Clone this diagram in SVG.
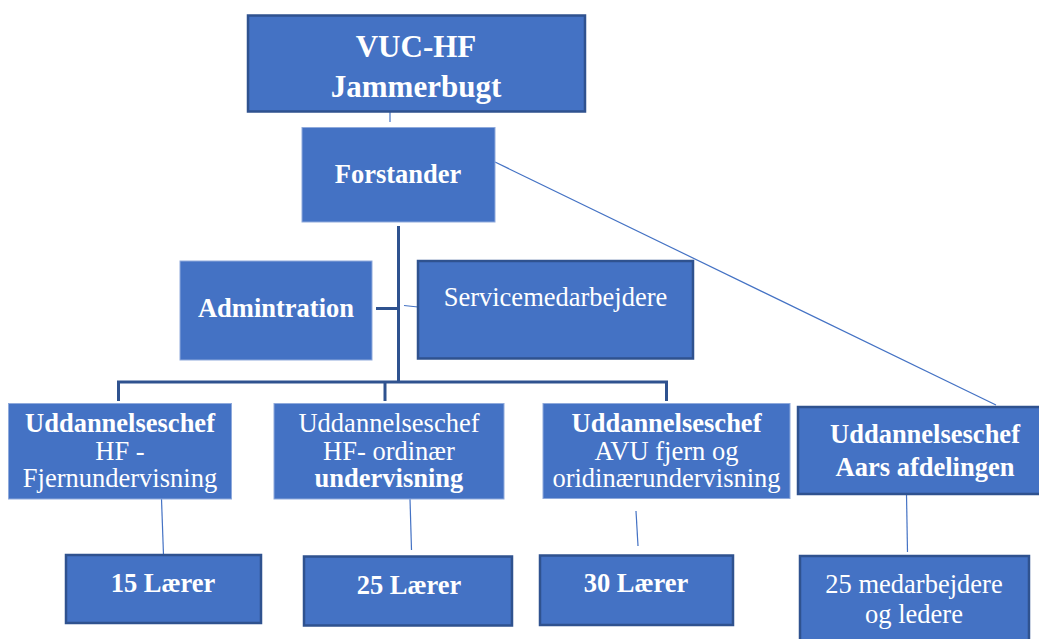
<svg xmlns="http://www.w3.org/2000/svg" width="1039" height="639" viewBox="0 0 1039 639">
<style>
.box{fill:#4472C4;stroke:#8FAADC;stroke-width:1}
.dbox{fill:#4472C4;stroke:#2F528F;stroke-width:2.5}
.t{font-family:"Liberation Serif","Times New Roman",serif;fill:#FFFFFF;text-anchor:middle;font-size:26.5px}
.b{font-weight:bold}
.org{stroke:#2F528F;stroke-width:3;fill:none}
.thin{stroke:#4472C4;stroke-width:1.2;fill:none}
</style>
<rect width="1039" height="639" fill="#FFFFFF"/>
<g id="connectors">
<line class="thin" x1="390" y1="112" x2="390" y2="122"/>
<line class="thin" x1="495" y1="162" x2="996" y2="405"/>
<line class="org" x1="398.5" y1="226" x2="398.5" y2="383"/>
<line class="org" x1="376" y1="308.5" x2="398" y2="308.5"/>
<line class="thin" x1="404" y1="305.5" x2="418" y2="307"/>
<polyline class="org" points="118.5,401 118.5,382 666.5,382 666.5,401"/>
<line class="org" x1="385" y1="382" x2="385" y2="401"/>
<line class="thin" x1="161.5" y1="499" x2="163.5" y2="555"/>
<line class="thin" x1="410" y1="499" x2="411.5" y2="550"/>
<line class="thin" x1="636" y1="511" x2="638" y2="546"/>
<line class="thin" x1="906.5" y1="494" x2="907.5" y2="552"/>
</g>
<g id="vuc">
<rect class="dbox" x="248" y="15.5" width="337" height="96"/>
<text class="t b" x="416" y="57" style="font-size:31px">VUC-HF</text>
<text class="t b" x="416" y="97" style="font-size:31px">Jammerbugt</text>
</g>
<g id="forstander">
<rect class="box" x="302" y="127.5" width="193" height="94.5"/>
<text class="t b" x="398" y="183">Forstander</text>
</g>
<g id="admin">
<rect class="box" x="180" y="261" width="192" height="99"/>
<text class="t b" x="276" y="317">Admintration</text>
</g>
<g id="service">
<rect class="dbox" x="418" y="261" width="275" height="97.5"/>
<text class="t" x="555.5" y="306">Servicemedarbejdere</text>
</g>
<g id="ud1">
<rect class="box" x="8.5" y="403.5" width="223" height="95.5"/>
<text class="t b" x="120" y="432">Uddannelseschef</text>
<text class="t" x="120" y="459.5">HF -</text>
<text class="t" x="120" y="487">Fjernundervisning</text>
</g>
<g id="ud2">
<rect class="box" x="274" y="403.5" width="230" height="95.5"/>
<text class="t" x="389" y="432">Uddannelseschef</text>
<text class="t" x="389" y="459.5">HF- ordinær</text>
<text class="t b" x="389" y="487">undervisning</text>
</g>
<g id="ud3">
<rect class="box" x="543" y="403.5" width="247" height="95"/>
<text class="t b" x="666.5" y="432">Uddannelseschef</text>
<text class="t" x="666.5" y="459.5">AVU fjern og</text>
<text class="t" x="666.5" y="487">oridinærundervisning</text>
</g>
<g id="ud4">
<rect class="dbox" x="798" y="407" width="260" height="87"/>
<text class="t b" x="925" y="443">Uddannelseschef</text>
<text class="t b" x="925" y="476">Aars afdelingen</text>
</g>
<g id="l15">
<rect class="dbox" x="66" y="555" width="195" height="68"/>
<text class="t b" x="163" y="592">15 Lærer</text>
</g>
<g id="l25">
<rect class="dbox" x="304" y="556.5" width="208" height="69"/>
<text class="t b" x="409" y="594">25 Lærer</text>
</g>
<g id="l30">
<rect class="dbox" x="540" y="555.5" width="193" height="69.5"/>
<text class="t b" x="636" y="592">30 Lærer</text>
</g>
<g id="med">
<rect class="dbox" x="800" y="556" width="229" height="95"/>
<text class="t" x="914" y="593">25 medarbejdere</text>
<text class="t" x="914" y="623">og ledere</text>
</g>
</svg>
